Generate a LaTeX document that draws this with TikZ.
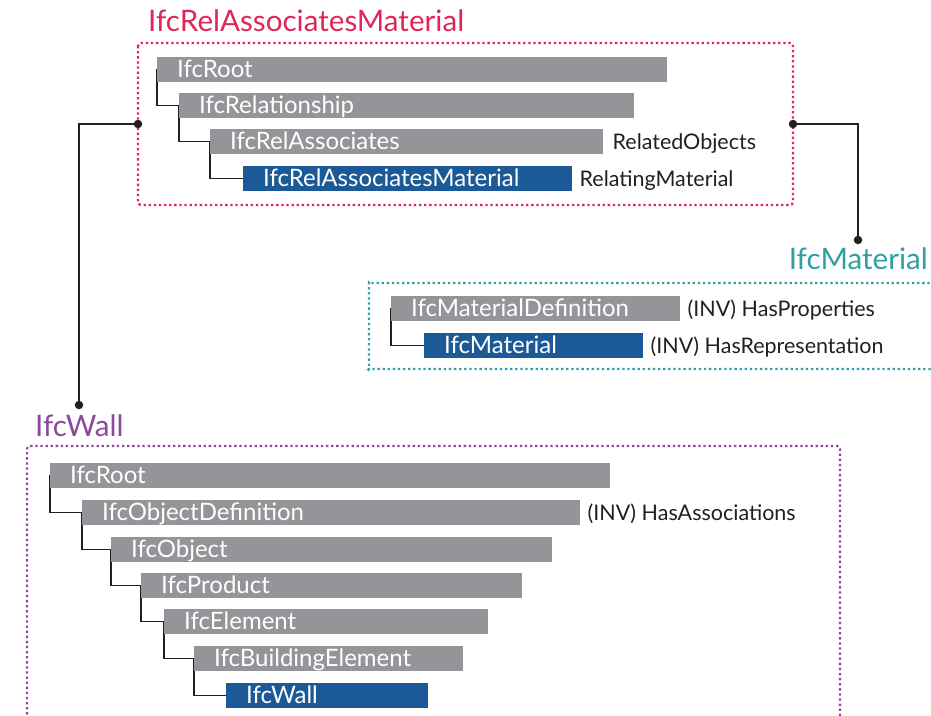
\documentclass[tikz,border=0pt]{standalone}
\usepackage{fontspec}
\setmainfont{Lato}
\definecolor{bargray}{HTML}{939598}
\definecolor{barblue}{HTML}{1B5A96}
\definecolor{inkdark}{HTML}{231F20}
\definecolor{relred}{HTML}{E1255C}
\definecolor{matteal}{HTML}{2E9FA2}
\definecolor{wallpurple}{HTML}{8C489B}
\pgfdeclarelayer{background}
\pgfsetlayers{background,main}
\tikzset{
  bar/.style={fill=bargray, text=white, anchor=north west, inner xsep=20pt,
    inner ysep=0pt, text height=20.5pt, text depth=4pt, align=left,
    text width=#1-40pt, font=\fontsize{24}{24}\selectfont},
  bluebar/.style={bar=#1, fill=barblue},
  lbl/.style={anchor=base west, inner sep=0pt, text=inkdark,
    font=\fontsize{21.5}{21.5}\selectfont},
  title/.style={inner sep=0pt, font=\fontsize{29.6}{29.6}\selectfont},
  dotbox/.style={draw=#1, line width=2.3pt, dash pattern=on 2.3pt off 2.8pt,
    rounded corners=3pt},
  tree/.style={draw=inkdark, line width=1.8pt},
  link/.style={draw=inkdark, line width=2pt},
  enddot/.style={fill=inkdark, circle, inner sep=0pt, minimum size=8.5pt},
}
\begin{document}
\begin{tikzpicture}[x=1pt, y=-1pt]
\clip (0,0) rectangle (931,715);

% --- IfcRelAssociatesMaterial group ---
\node[title, anchor=base west, text=relred] (reltitle) at (148,31) {IfcRelAssociatesMaterial};
\draw[dotbox=relred] (138,43) rectangle (793,205);
\coordinate (relL) at (138,124);
\coordinate (relR) at (793,124);
\node[bar=510pt] (r1) at (157,57) {IfcRoot};
\node[bar=455pt] (r2) at (179,93) {IfcRelationship};
\node[bar=393pt] (r3) at (210,129) {IfcRelAssociates};
\node[bluebar=329pt] (r4) at (243,166) {IfcRelAssociatesMaterial};
\node[lbl] (relobj) at ([xshift=9pt]r3.base east) {RelatedObjects};
\node[lbl] (relmat) at ([xshift=7pt]r4.base east) {RelatingMaterial};

% --- IfcMaterial group ---
\node[title, anchor=base east, text=matteal] (mattitle) at (928,269) {IfcMaterial};
\draw[dotbox=matteal] (950,283) -- (372,283) arc[start angle=90, end angle=180, radius=3pt]
  -- (369,366) arc[start angle=180, end angle=270, radius=3pt] -- (950,369);
\node[bar=289pt] (m1) at (391,296) {IfcMaterialDefinition};
\node[bluebar=219pt] (m2) at (424,333) {IfcMaterial};
\node[lbl] (hasprop) at ([xshift=7pt]m1.base east) {(INV) HasProperties};
\node[lbl] (hasrep) at ([xshift=7pt]m2.base east) {(INV) HasRepresentation};

% --- IfcWall group ---
\node[title, anchor=base west, text=wallpurple] (walltitle) at (35,436) {IfcWall};
\draw[dotbox=wallpurple] (27,740) -- (27,446) -- (840,446) -- (840,740);
\node[bar=560pt] (w1) at (50,463) {IfcRoot};
\node[bar=498pt] (w2) at (82,500) {IfcObjectDefinition};
\node[bar=441pt] (w3) at (111,537) {IfcObject};
\node[bar=381pt] (w4) at (141,573) {IfcProduct};
\node[bar=324pt] (w5) at (164,609) {IfcElement};
\node[bar=269pt] (w6) at (194,646) {IfcBuildingElement};
\node[bluebar=202pt] (w7) at (226,683) {IfcWall};
\node[lbl] (hasassoc) at ([xshift=7pt]w2.base east) {(INV) HasAssociations};

% --- inheritance lines behind the bars ---
\begin{pgfonlayer}{background}
  \draw[tree] (r1.west) |- (r2.west);
  \draw[tree] (r2.west) |- (r3.west);
  \draw[tree] (r3.west) |- (r4.west);
  \draw[tree] (m1.west) |- (m2.west);
  \draw[tree] (w1.west) |- (w2.west);
  \draw[tree] (w2.west) |- (w3.west);
  \draw[tree] (w3.west) |- (w4.west);
  \draw[tree] (w4.west) |- (w5.west);
  \draw[tree] (w5.west) |- (w6.west);
  \draw[tree] (w6.west) |- (w7.west);
\end{pgfonlayer}

% --- links between the groups ---
\coordinate (wallend) at (79,405);
\coordinate (matend) at (858,240);
\draw[link] (relL) -| (wallend);
\draw[link] (relR) -| (matend);
\node[enddot] at (relL) {};
\node[enddot] at (relR) {};
\node[enddot] at (wallend) {};
\node[enddot] at (matend) {};
\end{tikzpicture}
\end{document}
